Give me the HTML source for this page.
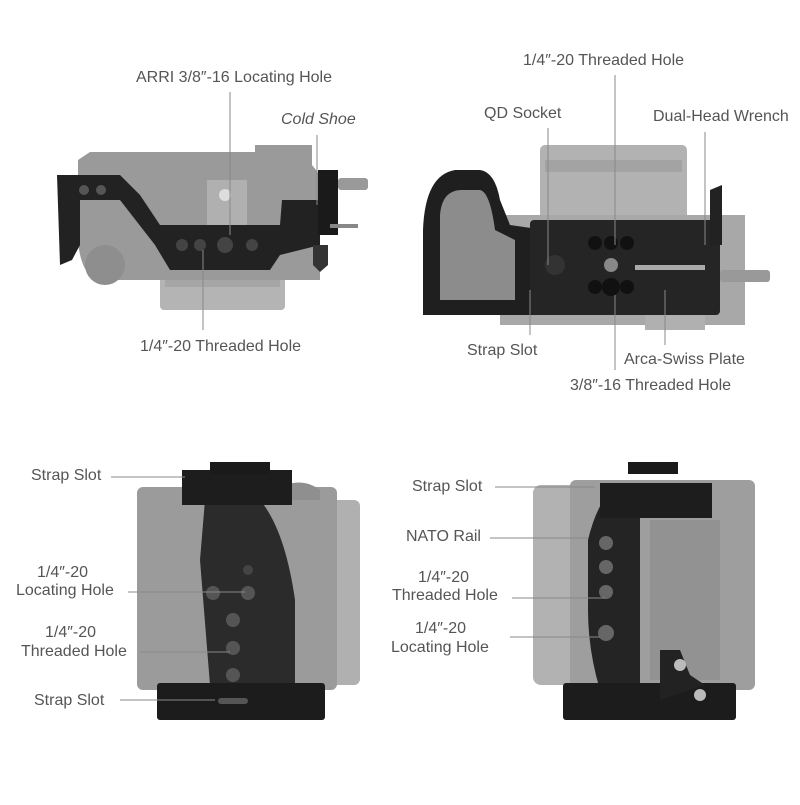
<!DOCTYPE html>
<html><head><meta charset="utf-8"><style>
body{margin:0;background:#fff}
svg text{font-family:"Liberation Sans",sans-serif;font-size:16px;fill:#555}
</style></head><body>
<svg width="800" height="800" viewBox="0 0 800 800" xmlns="http://www.w3.org/2000/svg">
<!-- TOP LEFT -->
<g>
<rect x="160" y="265" width="125" height="45" rx="4" fill="#b4b4b4"/>
<rect x="165" y="275" width="115" height="12" fill="#a6a6a6"/>
<path d="M78 160 L90 152 L255 152 L255 145 L312 145 L312 165 L320 175 L320 280 L95 280 Q80 270 78 240 Z" fill="#9a9a9a"/>
<circle cx="105" cy="265" r="20" fill="#8e8e8e"/>
<rect x="207" y="180" width="40" height="45" fill="#b0b0b0"/>
<circle cx="225" cy="195" r="6" fill="#ddd"/>
<path d="M57 175 L120 175 L140 195 L160 225 L280 225 L282 200 L320 200 L320 245 L280 255 L270 270 L170 270 L155 245 L120 200 L80 200 L80 245 L72 260 L60 265 Z" fill="#222"/>
<circle cx="84" cy="190" r="5" fill="#555"/><circle cx="101" cy="190" r="5" fill="#555"/>
<circle cx="182" cy="245" r="6" fill="#444"/><circle cx="200" cy="245" r="6" fill="#444"/><circle cx="225" cy="245" r="8" fill="#444"/><circle cx="252" cy="245" r="6" fill="#444"/>
<rect x="318" y="170" width="20" height="65" fill="#1a1a1a"/>
<rect x="338" y="178" width="30" height="12" rx="3" fill="#999"/>
<path d="M313 245 L328 245 L328 265 L320 272 L313 265 Z" fill="#333"/>
<rect x="330" y="224" width="28" height="4" fill="#888"/>
</g>
<text x="136" y="82">ARRI 3/8″-16 Locating Hole</text>
<line x1="230" y1="92" x2="230" y2="235" stroke="#888" stroke-width="1"/>
<text x="281" y="124" style="font-style:italic">Cold Shoe</text>
<line x1="317" y1="135" x2="317" y2="205" stroke="#888"/>
<text x="140" y="351">1/4″-20 Threaded Hole</text>
<line x1="203" y1="250" x2="203" y2="330" stroke="#888"/>

<!-- TOP RIGHT -->
<g>
<rect x="540" y="145" width="147" height="80" rx="5" fill="#b2b2b2"/>
<rect x="545" y="160" width="137" height="12" fill="#a3a3a3"/>
<rect x="500" y="215" width="245" height="110" fill="#a8a8a8"/>
<rect x="645" y="300" width="60" height="30" fill="#b0b0b0"/>
<path d="M423 230 Q425 175 455 170 L480 170 Q495 172 500 200 L510 225 L545 230 L545 315 L423 315 Z" fill="#1f1f1f"/>
<path d="M440 215 Q442 190 462 190 L480 190 Q490 192 495 230 L515 240 L515 300 L440 300 Z" fill="#8c8c8c"/>
<rect x="530" y="220" width="190" height="95" rx="4" fill="#252525"/>
<circle cx="595" cy="243" r="7" fill="#111"/><circle cx="611" cy="243" r="7" fill="#111"/><circle cx="627" cy="243" r="7" fill="#111"/>
<circle cx="611" cy="265" r="7" fill="#888"/>
<circle cx="595" cy="287" r="7" fill="#111"/><circle cx="611" cy="287" r="9" fill="#111"/><circle cx="627" cy="287" r="7" fill="#111"/>
<circle cx="555" cy="265" r="10" fill="#333"/>
<rect x="635" y="265" width="70" height="5" fill="#aaa"/>
<path d="M710 190 L722 185 L722 245 L710 245 Z" fill="#222"/>
<rect x="720" y="270" width="50" height="12" rx="3" fill="#999"/>
</g>
<text x="523" y="65">1/4″-20 Threaded Hole</text>
<line x1="615" y1="75" x2="615" y2="245" stroke="#888"/>
<text x="484" y="118">QD Socket</text>
<line x1="548" y1="128" x2="548" y2="265" stroke="#888"/>
<text x="653" y="121">Dual-Head Wrench</text>
<line x1="705" y1="132" x2="705" y2="245" stroke="#888"/>
<text x="467" y="355">Strap Slot</text>
<line x1="530" y1="290" x2="530" y2="335" stroke="#888"/>
<text x="624" y="364">Arca-Swiss Plate</text>
<line x1="665" y1="290" x2="665" y2="345" stroke="#888"/>
<text x="570" y="390">3/8″-16 Threaded Hole</text>
<line x1="615" y1="295" x2="615" y2="370" stroke="#888"/>

<!-- BOTTOM LEFT -->
<g>
<rect x="320" y="500" width="40" height="185" rx="6" fill="#b0b0b0"/>
<rect x="137" y="487" width="200" height="203" rx="6" fill="#9b9b9b"/>
<path d="M275 490 Q300 475 320 490 L320 500 L275 500 Z" fill="#8f8f8f"/>
<path d="M205 500 L260 500 Q285 530 295 600 L295 685 L210 685 L200 560 Z" fill="#2b2b2b"/>
<rect x="182" y="470" width="110" height="35" fill="#1d1d1d"/>
<rect x="210" y="462" width="60" height="12" fill="#1a1a1a"/>
<rect x="157" y="683" width="168" height="37" rx="3" fill="#1c1c1c"/>
<rect x="218" y="698" width="30" height="6" rx="3" fill="#555"/>
<circle cx="213" cy="593" r="7" fill="#555"/><circle cx="248" cy="593" r="7" fill="#555"/>
<circle cx="233" cy="620" r="7" fill="#555"/><circle cx="233" cy="648" r="7" fill="#555"/><circle cx="233" cy="675" r="7" fill="#555"/>
<circle cx="248" cy="570" r="5" fill="#444"/>
</g>
<text x="31" y="480">Strap Slot</text>
<line x1="111" y1="477" x2="185" y2="477" stroke="#888"/>
<text x="37" y="577">1/4″-20</text>
<text x="16" y="595">Locating Hole</text>
<line x1="128" y1="592" x2="245" y2="592" stroke="#888"/>
<text x="45" y="637">1/4″-20</text>
<text x="21" y="656">Threaded Hole</text>
<line x1="140" y1="652" x2="230" y2="652" stroke="#888"/>
<text x="34" y="705">Strap Slot</text>
<line x1="120" y1="700" x2="215" y2="700" stroke="#888"/>

<!-- BOTTOM RIGHT -->
<g>
<rect x="533" y="485" width="45" height="200" rx="8" fill="#b2b2b2"/>
<rect x="570" y="480" width="185" height="210" rx="6" fill="#9e9e9e"/>
<rect x="650" y="520" width="70" height="160" fill="#929292"/>
<path d="M610 490 L640 490 L640 690 L600 690 Q588 650 588 610 L588 540 Q595 510 610 490 Z" fill="#242424"/>
<rect x="600" y="483" width="112" height="35" fill="#1d1d1d"/>
<rect x="628" y="462" width="50" height="12" fill="#1a1a1a"/>
<rect x="563" y="683" width="173" height="37" rx="3" fill="#1c1c1c"/>
<circle cx="606" cy="543" r="7" fill="#666"/><circle cx="606" cy="567" r="7" fill="#666"/><circle cx="606" cy="592" r="7" fill="#666"/><circle cx="606" cy="633" r="8" fill="#666"/>
<path d="M660 650 L680 650 L690 675 L705 685 L660 700 Z" fill="#222"/>
<circle cx="680" cy="665" r="6" fill="#bbb"/><circle cx="700" cy="695" r="6" fill="#bbb"/>
</g>
<text x="412" y="491">Strap Slot</text>
<line x1="495" y1="487" x2="595" y2="487" stroke="#888"/>
<text x="406" y="541">NATO Rail</text>
<line x1="490" y1="538" x2="588" y2="538" stroke="#888"/>
<text x="418" y="582">1/4″-20</text>
<text x="392" y="600">Threaded Hole</text>
<line x1="512" y1="598" x2="605" y2="598" stroke="#888"/>
<text x="415" y="633">1/4″-20</text>
<text x="391" y="652">Locating Hole</text>
<line x1="510" y1="637" x2="600" y2="637" stroke="#888"/>
</svg>
</body></html>
